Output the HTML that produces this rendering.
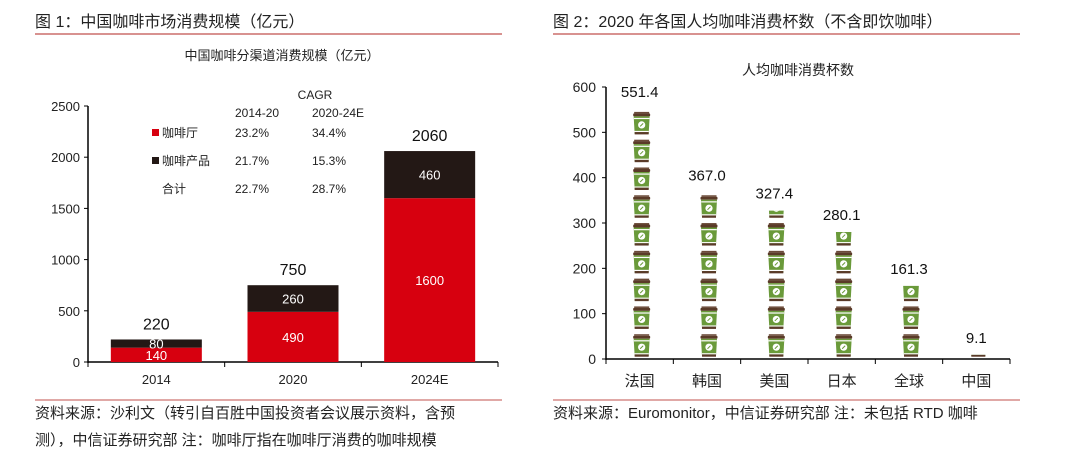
<!DOCTYPE html>
<html><head><meta charset="utf-8"><style>
body{margin:0;width:1080px;height:461px;background:#fff;font-family:"Liberation Sans","Noto Sans CJK SC",sans-serif;overflow:hidden}
svg{position:absolute;left:0;top:0}
</style></head><body>
<svg width="1080" height="461" font-family="Liberation Sans, Noto Sans CJK SC, sans-serif">
<defs>
<g id="cup">
<rect x="-7.5" y="0" width="15" height="1.5" fill="#6b4a38"/>
<rect x="-8.5" y="1.5" width="17" height="3" rx="1" fill="#5a3a28"/>
<path d="M-8,4.5 L8,4.5 L7,22 L-7,22 Z" fill="#6a9a3a"/>
<rect x="-7.8" y="6" width="15.6" height="1.2" fill="#fff"/>
<rect x="-7.1" y="19" width="14.2" height="1.2" fill="#fff"/>
<rect x="-7" y="20.2" width="14" height="2.3" fill="#5a3a28"/>
<circle cx="0" cy="13" r="3.6" fill="#fff"/>
<line x1="-1.5" y1="14.5" x2="1.5" y2="11.5" stroke="#6a9a3a" stroke-width="1"/>
</g>
</defs>
<text x="35" y="27" font-size="16" fill="#222">图 1：中国咖啡市场消费规模（亿元）</text>
<line x1="35" y1="34" x2="502" y2="34" stroke="#c0504d" stroke-width="1.2"/>
<text x="553" y="27" font-size="16" fill="#222">图 2：2020 年各国人均咖啡消费杯数（不含即饮咖啡）</text>
<line x1="553" y1="34" x2="1020" y2="34" stroke="#c0504d" stroke-width="1.2"/>
<text x="282" y="60" font-size="13" text-anchor="middle" fill="#222">中国咖啡分渠道消费规模（亿元）</text>
<text x="798" y="75" font-size="14" text-anchor="middle" fill="#222">人均咖啡消费杯数</text>
<g font-size="12" fill="#222">
<text x="315" y="99" text-anchor="middle">CAGR</text>
<text x="235" y="117">2014-20</text><text x="312" y="117">2020-24E</text>
<rect x="152" y="129" width="7" height="7" fill="#d7000f"/><text x="162" y="137">咖啡厅</text>
<text x="235" y="137">23.2%</text><text x="312" y="137">34.4%</text>
<rect x="152" y="157" width="7" height="7" fill="#231815"/><text x="162" y="165">咖啡产品</text>
<text x="235" y="165">21.7%</text><text x="312" y="165">15.3%</text>
<text x="162" y="193">合计</text><text x="235" y="193">22.7%</text><text x="312" y="193">28.7%</text>
</g>
<g id="left"></g><g id="right"></g>
<line x1="35" y1="400" x2="502" y2="400" stroke="#c0504d" stroke-width="1"/>
<line x1="553" y1="400" x2="1020" y2="400" stroke="#c0504d" stroke-width="1"/>
<text x="35" y="418" font-size="15" fill="#222">资料来源：沙利文（转引自百胜中国投资者会议展示资料，含预</text>
<text x="35" y="445" font-size="15" fill="#222">测），中信证券研究部 注：咖啡厅指在咖啡厅消费的咖啡规模</text>
<text x="553" y="418" font-size="15" fill="#222">资料来源：Euromonitor，中信证券研究部 注：未包括 RTD 咖啡</text>
</svg>
<script>
const leftCats=["2014","2020","2024E"];
const cafeVals=[140,490,1600];
const productVals=[80,260,460];
const leftTicks=[0,500,1000,1500,2000,2500];
const rightCats=["法国","韩国","美国","日本","全球","中国"];
const cupVals=[551.4,367.0,327.4,280.1,161.3,9.1];
const rightTicks=[0,100,200,300,400,500,600];
const NS="http://www.w3.org/2000/svg";
function mk(p,t,a,txt){const e=document.createElementNS(NS,t);for(const k in a)e.setAttribute(k,a[k]);if(txt!==undefined)e.textContent=txt;p.appendChild(e);return e;}
// left
const L=document.getElementById('left');
const lx0=88,lx1=498,ly0=362,ly1=106;
const ly=v=>ly0-(v/2500)*(ly0-ly1);
const lbw=(lx1-lx0)/leftCats.length;
let ax=mk(L,'line',{x1:lx0,y1:ly1,x2:lx0,y2:ly0+1,stroke:'#000','stroke-width':1.5});

ax=mk(L,'line',{x1:lx0,y1:ly0,x2:lx1,y2:ly0,stroke:'#000','stroke-width':1.5});

leftTicks.forEach(t=>{mk(L,'line',{x1:lx0-4,y1:ly(t),x2:lx0,y2:ly(t),stroke:'#000'});
const e=mk(L,'text',{x:lx0-8,y:ly(t)+5,'font-size':13,'text-anchor':'end',fill:'#222'},t);
});
for(let i=0;i<=leftCats.length;i++)mk(L,'line',{x1:lx0+i*lbw,y1:ly0,x2:lx0+i*lbw,y2:ly0+5,stroke:'#000'});
leftCats.forEach((c,i)=>{const cx=lx0+lbw*(i+0.5),w=91;
const a=cafeVals[i],b=productVals[i],tot=a+b;
let r=mk(L,'rect',{x:cx-w/2,y:ly(a),width:w,height:ly0-ly(a),fill:'#d7000f'});

r=mk(L,'rect',{x:cx-w/2,y:ly(tot),width:w,height:ly(a)-ly(tot),fill:'#231815'});

let t=mk(L,'text',{x:cx,y:(ly(a)+ly0)/2+5,'font-size':13,'text-anchor':'middle',fill:'#fff'},a);

t=mk(L,'text',{x:cx,y:(ly(a)+ly(tot))/2+5,'font-size':13,'text-anchor':'middle',fill:'#fff'},b);

t=mk(L,'text',{x:cx,y:ly(tot)-10,'font-size':16,'text-anchor':'middle',fill:'#111'},tot);

t=mk(L,'text',{x:cx,y:ly0+22,'font-size':13,'text-anchor':'middle',fill:'#222'},c);
});
// right
const R=document.getElementById('right');
const rx0=606,rx1=1010,ry0=359,ry1=87;
const ry=v=>ry0-(v/600)*(ry0-ry1);
const rbw=(rx1-rx0)/rightCats.length;
const cupUnit=61.3; // units represented by one cup icon (pictogram scale)
ax=mk(R,'line',{x1:rx0,y1:ry1,x2:rx0,y2:ry0+1,stroke:'#000','stroke-width':1.5});

ax=mk(R,'line',{x1:rx0,y1:ry0,x2:rx1,y2:ry0,stroke:'#000','stroke-width':1.5});

rightTicks.forEach(t=>{mk(R,'line',{x1:rx0-4,y1:ry(t),x2:rx0,y2:ry(t),stroke:'#000'});
const e=mk(R,'text',{x:rx0-10,y:ry(t)+5,'font-size':14,'text-anchor':'end',fill:'#222'},t);
});
for(let i=0;i<=rightCats.length;i++)mk(R,'line',{x1:rx0+i*rbw,y1:ry0,x2:rx0+i*rbw,y2:ry0+5,stroke:'#000'});
const defs=document.querySelector('defs');
rightCats.forEach((c,i)=>{const cx=rx0+rbw*(i+0.5)+2,v=cupVals[i];
const cp=mk(defs,'clipPath',{id:'clip'+i});mk(cp,'rect',{x:cx-10,y:ry(v),width:20,height:ry0-ry(v)});
const g=mk(R,'g',{'clip-path':'url(#clip'+i+')'});

for(let k=0;k*cupUnit<v;k++){mk(g,'use',{href:'#cup',x:cx,y:ry((k+1)*cupUnit)+3});}
let t=mk(R,'text',{x:cx-2,y:ry(v)-12,'font-size':15,'text-anchor':'middle',fill:'#111'},v.toFixed(1));

t=mk(R,'text',{x:cx-2,y:ry0+27,'font-size':15,'text-anchor':'middle',fill:'#222'},c);
});
</script>
</body></html>
